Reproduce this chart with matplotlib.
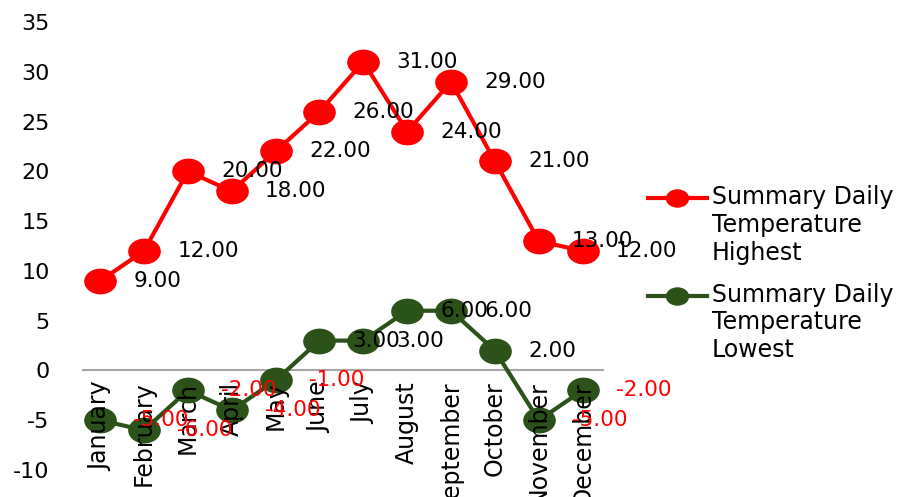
import matplotlib.pyplot as plt
from matplotlib.lines import Line2D
from matplotlib.path import Path
from matplotlib.transforms import Affine2D, ScaledTranslation

months = ["January", "February", "March", "April", "May", "June", "July",
          "August", "September", "October", "November", "December"]
highest = [9, 12, 20, 18, 22, 26, 31, 24, 29, 21, 13, 12]
lowest = [-5, -6, -2, -4, -1, 3, 3, 6, 6, 2, -5, -2]
series_names = ["Summary Daily\nTemperature\nHighest",
                "Summary Daily\nTemperature\nLowest"]
yticks = [-10, -5, 0, 5, 10, 15, 20, 25, 30, 35]

plt.rcParams['font.family'] = ['DejaVu Sans']
plt.rcParams['axes.unicode_minus'] = False

# slightly flattened circle, like the original markers
ellipse = Path.unit_circle().transformed(Affine2D().scale(1, 0.78))

fig = plt.figure(figsize=(9.12, 4.97), dpi=100)
ax = fig.add_axes([0.091, 0.0543, 0.570, 0.9014])

# move the x axis to y=0 first (this resets tick settings)
for s in ["top", "right", "left"]:
    ax.spines[s].set_visible(False)
ax.spines["bottom"].set_position(("data", 0))
ax.spines["bottom"].set_color("#A6A6A6")
ax.spines["bottom"].set_linewidth(1.5)
ax.spines["bottom"].set_zorder(0)

x = list(range(len(months)))
colors = ["#FF0000", "#2B5219"]
for values, name, color in zip([highest, lowest], series_names, colors):
    ax.plot(x, values, color=color, lw=3, marker=ellipse, markersize=22.5,
            label=name, zorder=1.5)
    for xi, v in zip(x, values):
        ax.annotate("%.2f" % v, (xi, v), xytext=(24, 0), textcoords="offset points",
                    ha="left", va="center", fontsize=15.5,
                    color="red" if v < 0 else "black")

ax.set_xlim(-0.39, 11.46)
ax.set_ylim(-10, 35)
ax.set_yticks(yticks)
ax.set_xticks(x)
ax.set_xticklabels(months, rotation=90, va="top", ha="center", fontsize=17)
ax.tick_params(axis="x", length=0, pad=8)
ax.tick_params(axis="y", length=0, pad=24, labelsize=16)

leg = ax.legend(loc="upper left", bbox_to_anchor=(0.70, 0.646), bbox_transform=fig.transFigure,
                frameon=False, fontsize=17, handlelength=2.5, handletextpad=0.2,
                markerscale=0.7, labelspacing=0.75, borderaxespad=0)
# put the legend handles on the first line of each label
for ln in leg.findobj(Line2D):
    ln.set_transform(ln.get_transform() + ScaledTranslation(0, 0.28, fig.dpi_scale_trans))

fig.savefig("out.png", dpi=100)
